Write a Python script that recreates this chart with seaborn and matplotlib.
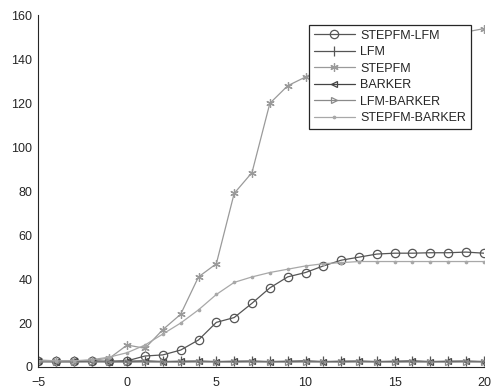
import matplotlib
matplotlib.use("Agg")
import matplotlib.pyplot as plt
import seaborn as sns
import pandas as pd

# SNR sweep (dB)
snr = list(range(-5, 21))

stepfm_lfm = [2.6, 2.6, 2.6, 2.6, 2.6, 2.8, 5, 5.5, 7.7, 12.3, 20.3, 22.5, 29, 36,
              41, 43, 46, 48.6, 50, 51.4, 51.8, 51.8, 52, 52, 52.3, 51.8]
lfm = [2.7, 2.5, 2.6, 2.7, 2.5, 2.6, 2.8, 2.5, 2.6, 2.7, 2.5, 2.6, 2.7, 2.5,
       2.6, 2.8, 2.5, 2.6, 2.7, 2.5, 2.6, 2.8, 2.5, 2.6, 2.7, 2.5]
stepfm = [3.2, 2.8, 2.8, 3.0, 4, 10, 8.5, 17, 24, 41, 47, 79, 88.5, 120, 128, 132,
          136, 139, 142, 144, 146, 148, 150, 151, 152.5, 154]
barker = [2.5, 2.4, 2.5, 2.5, 2.4, 2.5, 2.5, 2.4, 2.5, 2.5, 2.4, 2.5, 2.5, 2.4,
          2.5, 2.5, 2.4, 2.5, 2.5, 2.4, 2.5, 2.5, 2.4, 2.5, 2.5, 2.4]
lfm_barker = [2.3, 2.3, 2.2, 2.3, 2.3, 2.2, 2.3, 2.3, 2.2, 2.3, 2.3, 2.2, 2.3,
              2.3, 2.2, 2.3, 2.3, 2.2, 2.3, 2.3, 2.2, 2.3, 2.3, 2.2, 2.3, 2.3]
stepfm_barker = [2.8, 2.8, 2.8, 3.3, 4.5, 6.5, 10, 15, 20, 26, 33, 38.5, 41, 43,
                 44.5, 46, 47, 47.5, 48, 48, 48, 48, 48, 48, 48, 48]

series_names = ["STEPFM-LFM", "LFM", "STEPFM", "BARKER", "LFM-BARKER", "STEPFM-BARKER"]
series_vals = [stepfm_lfm, lfm, stepfm, barker, lfm_barker, stepfm_barker]

styles = {
    "STEPFM-LFM":    dict(color="#555555", marker="o", ms=6, mfc="none"),
    "LFM":           dict(color="#555555", marker="|", ms=7, mfc="none"),
    "STEPFM":        dict(color="#9a9a9a", marker=(6, 2, 0), ms=6, mfc="none"),
    "BARKER":        dict(color="#444444", marker="<", ms=5, mfc="none"),
    "LFM-BARKER":    dict(color="#8a8a8a", marker=">", ms=5, mfc="none"),
    "STEPFM-BARKER": dict(color="#a8a8a8", marker=".", ms=3.5, mfc="#a8a8a8"),
}

sns.set_style("white")
plt.rcParams["font.family"] = ["Liberation Sans", "DejaVu Sans"]

fig = plt.figure(figsize=(4.91, 3.89), dpi=100)
ax = fig.add_axes([0.0774, 0.0566, 0.908, 0.9036])

for name, vals in zip(series_names, series_vals):
    df = pd.DataFrame({"snr": snr, "val": vals})
    st = styles[name]
    sns.lineplot(data=df, x="snr", y="val", ax=ax, label=name,
                 color=st["color"], marker=st["marker"], markersize=st["ms"],
                 markerfacecolor=st["mfc"], markeredgecolor=st["color"],
                 markeredgewidth=0.9, linewidth=0.9)

ax.set_xlim(-5, 20)
ax.set_ylim(0, 160)
ax.set_xticks([-5, 0, 5, 10, 15, 20])
ax.set_yticks(range(0, 161, 20))
ax.set_xlabel("")
ax.set_ylabel("")
ax.tick_params(direction="in", length=4, width=0.8, labelsize=9,
               colors="#262626")
ax.tick_params(axis="y", pad=4)
ax.tick_params(axis="x", pad=7)
for side in ["top", "right"]:
    ax.spines[side].set_visible(False)
for side in ["left", "bottom"]:
    ax.spines[side].set_color("#262626")
    ax.spines[side].set_linewidth(0.8)

leg = ax.legend(loc="upper right", bbox_to_anchor=(0.971, 0.974),
                borderaxespad=0, fontsize=9, frameon=True, fancybox=False,
                framealpha=1, facecolor="white",
                edgecolor="#262626", handlelength=3.3, handletextpad=0.4,
                labelspacing=0.36, borderpad=0.4)
leg.get_frame().set_linewidth(0.9)

fig.savefig("out.png", dpi=100)
